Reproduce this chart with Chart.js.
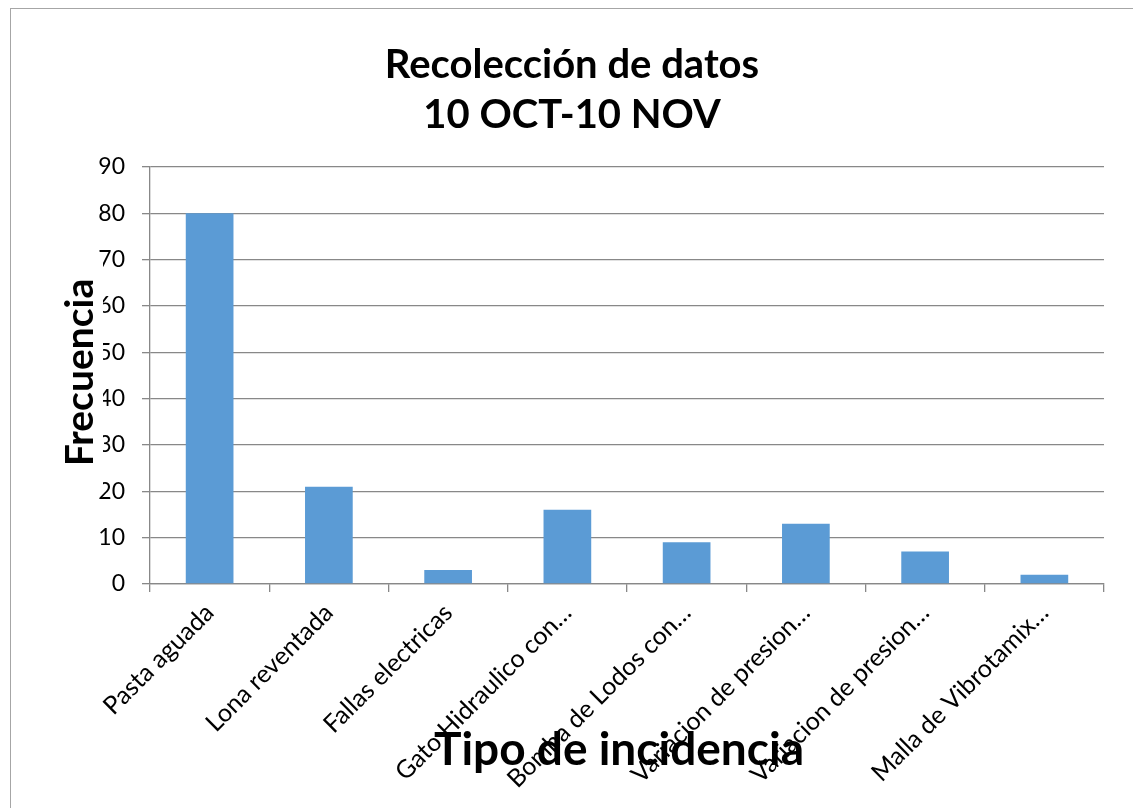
<!DOCTYPE html>
<html>
<head>
<meta charset="utf-8">
<script src="https://cdn.jsdelivr.net/npm/chart.js@4.4.1/dist/chart.umd.min.js"></script>
<style>
  html, body { margin: 0; padding: 0; background: #fff; overflow: hidden; }
  #wrap { position: relative; width: 1133px; height: 808px; }
  #frame { position: absolute; left: 10px; top: 8px; width: 1200px; height: 900px; border: 1.5px solid #a6a6a6; box-sizing: border-box; }
  canvas { position: absolute; left: 0; top: 0; }
</style>
</head>
<body>
<div id="wrap">
  <div id="frame"></div>
  <canvas id="c" width="1133" height="808"></canvas>
</div>
<script>
const titleLines = ['Recolección de datos', '10 OCT-10 NOV'];
const categories = [
  'Pasta aguada',
  'Lona reventada',
  'Fallas electricas',
  'Gato Hidraulico con…',
  'Bomba de Lodos con…',
  'Variacion de presion…',
  'Variacion de presion…',
  'Malla de Vibrotamix…'
];
const frecuencia = [80, 21, 3, 16, 9, 13, 7, 2];
const yTitle = 'Frecuencia';
const xTitle = 'Tipo de incidencia';
const yMin = 0, yMax = 90, yStep = 10;

const FONT = 'Lato';

const axisTitles = {
  id: 'axisTitles',
  afterDraw(chart) {
    const ctx = chart.ctx;
    const a = chart.chartArea;
    ctx.save();
    ctx.font = 'bold 39px ' + FONT;
    const w = ctx.measureText(yTitle).width;
    const cx = a.left - 70, cy = (a.top + a.bottom) / 2 - 3;
    ctx.fillStyle = '#fff';
    ctx.fillRect(cx - 21, cy - w / 2 - 25, 44, w + 50);
    ctx.translate(cx, cy);
    ctx.rotate(-Math.PI / 2);
    ctx.fillStyle = '#000';
    ctx.textAlign = 'center';
    ctx.textBaseline = 'middle';
    ctx.fillText(yTitle, 0, 0);
    ctx.restore();
    ctx.save();
    ctx.font = 'bold 46px ' + FONT;
    ctx.fillStyle = '#000';
    ctx.textAlign = 'center';
    ctx.textBaseline = 'middle';
    ctx.fillText(xTitle, (a.left + a.right) / 2 - 8, a.bottom + 166);
    ctx.restore();
  }
};

new Chart(document.getElementById('c'), {
  type: 'bar',
  data: {
    labels: categories,
    datasets: [{
      data: frecuencia,
      backgroundColor: '#5B9BD5',
      borderWidth: 0,
      barPercentage: 0.4,
      categoryPercentage: 1.0
    }]
  },
  options: {
    responsive: false,
    animation: false,
    layout: { padding: { left: 40, right: 29, top: 0, bottom: 0 } },
    plugins: {
      legend: { display: false },
      tooltip: { enabled: false },
      title: {
        display: true,
        text: titleLines,
        color: '#000',
        font: { family: FONT, size: 40, weight: 'bold', lineHeight: 1.25 },
        padding: { top: 40, bottom: 27 }
      }
    },
    scales: {
      x: {
        afterFit(scale) { scale.height = 224; },
        grid: { display: true, drawOnChartArea: false, drawTicks: true, tickLength: 8, offset: true, color: '#888', lineWidth: 1.3 },
        border: { display: true, color: '#888', width: 1.3 },
        ticks: {
          color: '#000',
          font: { family: FONT, size: 25 },
          maxRotation: 45, minRotation: 45,
          autoSkip: false,
          padding: 6
        }
      },
      y: {
        min: yMin, max: yMax,
        afterFit(scale) { scale.width = 110; },
        grid: { color: '#888', lineWidth: 1.3, tickLength: 8 },
        border: { display: true, color: '#888', width: 1.3 },
        ticks: {
          stepSize: yStep,
          color: '#000',
          font: { family: FONT, size: 23 },
          padding: 17
        }
      }
    }
  },
  plugins: [axisTitles]
});
</script>
</body>
</html>
